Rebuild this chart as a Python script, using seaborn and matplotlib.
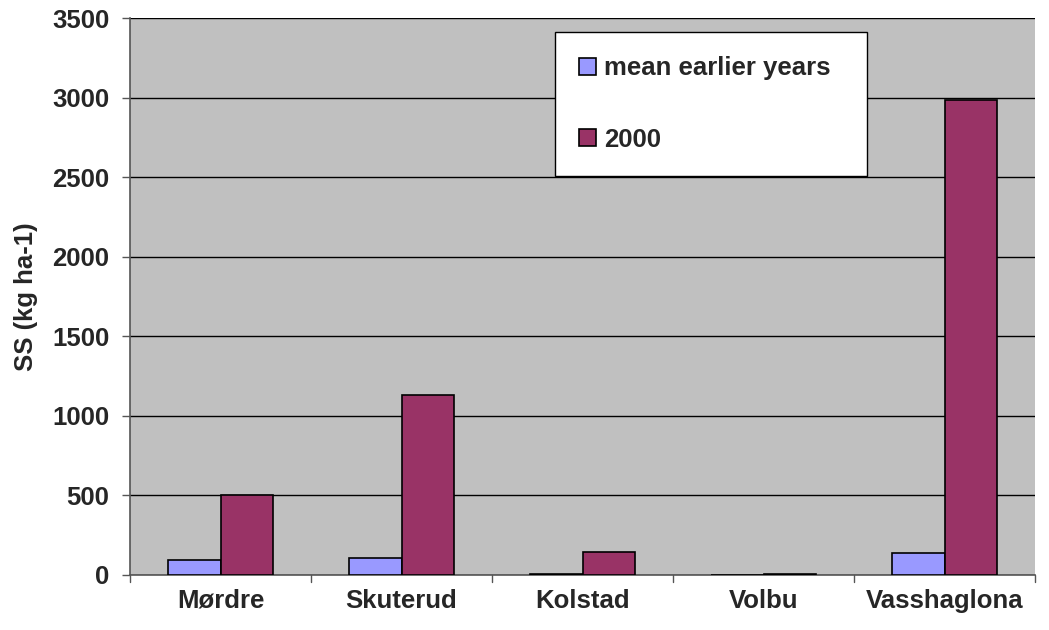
import matplotlib
matplotlib.use("Agg")
import matplotlib.pyplot as plt
import seaborn as sns
import pandas as pd
import numpy as np

categories = ["Mørdre", "Skuterud", "Kolstad", "Volbu", "Vasshaglona"]
series_names = ["mean earlier years", "2000"]
mean_earlier = [94, 109, 6, 3, 136]
year_2000 = [500, 1128, 143, 9, 2982]
yticks = [0, 500, 1000, 1500, 2000, 2500, 3000, 3500]
colors = ["#9999FF", "#993366"]

df = pd.DataFrame({
    "site": categories * 2,
    "series": [series_names[0]] * len(categories) + [series_names[1]] * len(categories),
    "value": mean_earlier + year_2000,
})

sns.set_style("white")
plt.rcParams["font.family"] = ["Liberation Sans", "DejaVu Sans"]
plt.rcParams["font.weight"] = "bold"

FS = 18.5

fig = plt.figure(figsize=(10.49, 6.3), dpi=100)
ax = fig.add_axes([130 / 1049, 55 / 630, 905 / 1049, 557 / 630])
ax.set_facecolor("#C0C0C0")

sns.barplot(data=df, x="site", y="value", hue="series", order=categories,
            hue_order=series_names, palette=colors, width=0.585,
            edgecolor="black", linewidth=1.2, saturation=1, ax=ax, zorder=3)

ax.set_ylim(0, 3500)
ax.set_xlim(-0.5, len(categories) - 0.5)
ax.set_yticks(yticks)
ax.set_yticklabels([str(t) for t in yticks], fontsize=FS, fontweight="bold")
ax.yaxis.grid(True, color="black", linewidth=1.0, zorder=0)
ax.set_axisbelow(True)

ax.set_xticks(np.arange(len(categories)))
ax.set_xticklabels(categories, fontsize=FS, fontweight="bold")
ax.tick_params(axis="x", length=0, pad=10)
# boundary ticks between categories
for b in np.arange(-0.5, len(categories) + 0.5, 1.0):
    ax.plot([b, b], [0, -0.013], transform=ax.get_xaxis_transform(),
            color="#555555", linewidth=1.0, clip_on=False)
ax.tick_params(axis="y", direction="out", length=6, width=1, color="#555555", left=True, pad=9)

ax.set_xlabel("")
ax.set_ylabel("SS (kg ha-1)", fontsize=FS, fontweight="bold", labelpad=10)

for side in ["top", "right"]:
    ax.spines[side].set_visible(False)
for side in ["left", "bottom"]:
    ax.spines[side].set_color("#555555")
    ax.spines[side].set_linewidth(1.2)

handles, labels = ax.get_legend_handles_labels()
leg = ax.legend(handles, labels, loc="upper left",
                bbox_to_anchor=(0.4696, 0.718, 0.3448, 0.257), mode="expand",
                frameon=True, fancybox=False, edgecolor="black", facecolor="white",
                framealpha=1, prop={"weight": "bold", "size": FS},
                labelspacing=1.85, handlelength=0.65, handleheight=0.65,
                handletextpad=0.3, borderpad=0.95, borderaxespad=0)
leg.get_frame().set_linewidth(1.0)

fig.savefig("out.png", dpi=100)
